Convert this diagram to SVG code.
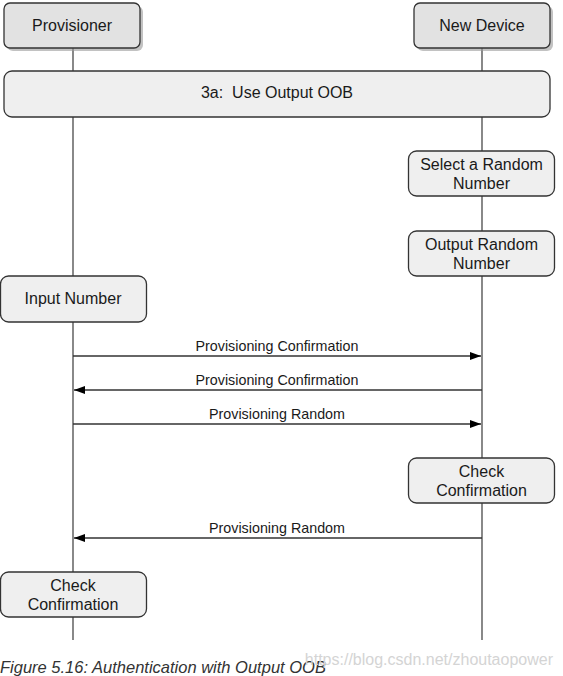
<svg xmlns="http://www.w3.org/2000/svg" width="563" height="676" viewBox="0 0 563 676">
<defs>
<style>
.t{font-family:"Liberation Sans",Arial,sans-serif;font-size:16px;fill:#1a1a1a;text-anchor:middle}
.l{font-family:"Liberation Sans",Arial,sans-serif;font-size:14.3px;fill:#1a1a1a;text-anchor:middle}
.hdr{fill:#e2e2e2;stroke:#333;stroke-width:1.3}
.shd{fill:#9a9a9a;opacity:0.6}
.box{fill:#efefef;stroke:#333;stroke-width:1.3}
.life{stroke:#3a3a3a;stroke-width:1.2;fill:none}
.msg{stroke:#333;stroke-width:1.5;fill:none}
</style>
<marker id="ah" markerUnits="userSpaceOnUse" markerWidth="12" markerHeight="10" refX="11" refY="4" orient="auto">
<path d="M0,0 L11,4 L0,8 Z" fill="#000"/>
</marker>
</defs>
<rect width="563" height="676" fill="#fff"/>
<g id="lifelines">
<line class="life" x1="73" y1="48" x2="73" y2="640"/>
<line class="life" x1="482" y1="48" x2="482" y2="640"/>
</g>
<g id="provisioner">
<rect class="shd" x="7" y="6" width="136" height="45" rx="6"/>
<rect class="hdr" x="4" y="3" width="136" height="45" rx="6"/>
<text class="t" x="72" y="31">Provisioner</text>
</g>
<g id="newdevice">
<rect class="shd" x="417" y="6" width="136" height="45" rx="6"/>
<rect class="hdr" x="414" y="3" width="136" height="45" rx="6"/>
<text class="t" x="482" y="31">New Device</text>
</g>
<g id="step3a">
<rect class="box" x="4" y="71" width="546" height="46" rx="8"/>
<text class="t" x="277" y="98" xml:space="preserve">3a:  Use Output OOB</text>
</g>
<g id="selectRandom">
<rect class="box" x="408.5" y="151" width="146" height="45" rx="8"/>
<text class="t" x="481.5" y="170">Select a Random</text>
<text class="t" x="481.5" y="189">Number</text>
</g>
<g id="outputRandom">
<rect class="box" x="408.5" y="231" width="146" height="45" rx="8"/>
<text class="t" x="481.5" y="250">Output Random</text>
<text class="t" x="481.5" y="269">Number</text>
</g>
<g id="inputNumber">
<rect class="box" x="0.5" y="276" width="146" height="46" rx="8"/>
<text class="t" x="73" y="304">Input Number</text>
</g>
<g id="checkConfRight">
<rect class="box" x="408.5" y="458" width="146" height="45" rx="8"/>
<text class="t" x="481.5" y="477">Check</text>
<text class="t" x="481.5" y="496">Confirmation</text>
</g>
<g id="checkConfLeft">
<rect class="box" x="0.5" y="572" width="146" height="45" rx="8"/>
<text class="t" x="73" y="591">Check</text>
<text class="t" x="73" y="610">Confirmation</text>
</g>
<g id="connectors">
<line class="msg" x1="73" y1="356" x2="481" y2="356" marker-end="url(#ah)"/>
<text class="l" x="277" y="351">Provisioning Confirmation</text>
<line class="msg" x1="482" y1="390" x2="74" y2="390" marker-end="url(#ah)"/>
<text class="l" x="277" y="385">Provisioning Confirmation</text>
<line class="msg" x1="73" y1="424" x2="481" y2="424" marker-end="url(#ah)"/>
<text class="l" x="277" y="419">Provisioning Random</text>
<line class="msg" x1="482" y1="538" x2="74" y2="538" marker-end="url(#ah)"/>
<text class="l" x="277" y="533">Provisioning Random</text>
</g>
<text x="0" y="673" font-family="Liberation Sans, Arial, sans-serif" font-size="16.5" font-style="italic" fill="#333">Figure 5.16: Authentication with Output OOB</text>
<text x="553" y="665" font-family="Liberation Sans, Arial, sans-serif" font-size="16" fill="#d4d4d4" text-anchor="end">https://blog.csdn.net/zhoutaopower</text>
</svg>
